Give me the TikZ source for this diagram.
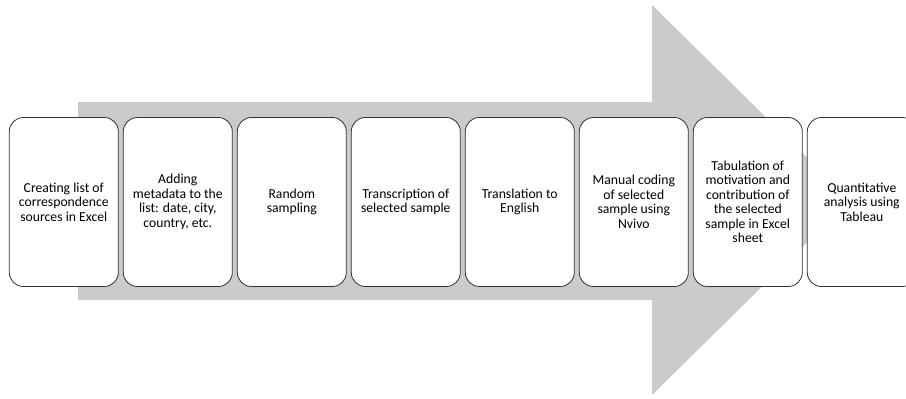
\documentclass[tikz,border=0pt]{standalone}
\usepackage{fontspec}
\setmainfont{Carlito}
\definecolor{arrowgrey}{HTML}{CBCBCB}
\definecolor{edgegrey}{HTML}{333333}
\begin{document}
\begin{tikzpicture}[x=1pt,y=-1pt,
  stepbox/.style={draw=edgegrey, line width=0.8pt, fill=white, rounded corners=14pt,
    minimum width=109pt, minimum height=169pt, align=center, inner sep=0pt,
    font=\fontsize{13.7}{14.5}\selectfont}]
\useasboundingbox (0,0) rectangle (906,399);
\clip (0,0) rectangle (906,399);
\fill[arrowgrey] (78,102) -- (652,102) -- (652,5) -- (850,200) -- (652,395) -- (652,300) -- (78,300) -- cycle;
\node[stepbox] (s1) at (63.8,202) {Creating list of\\correspondence\\sources in Excel};
\node[stepbox] (s2) at (177.8,202) {Adding\\metadata to the\\list: date, city,\\country, etc.};
\node[stepbox] (s3) at (291.8,202) {Random\\sampling};
\node[stepbox] (s4) at (405.8,202) {Transcription of\\selected sample};
\node[stepbox] (s5) at (519.8,202) {Translation to\\English};
\node[stepbox] (s6) at (633.8,202) {Manual coding\\of selected\\sample using\\Nvivo};
\node[stepbox] (s7) at (747.8,202) {Tabulation of\\motivation and\\contribution of\\the selected\\sample in Excel\\sheet};
\node[stepbox] (s8) at (861.8,202) {Quantitative\\analysis using\\Tableau};
\end{tikzpicture}
\end{document}
